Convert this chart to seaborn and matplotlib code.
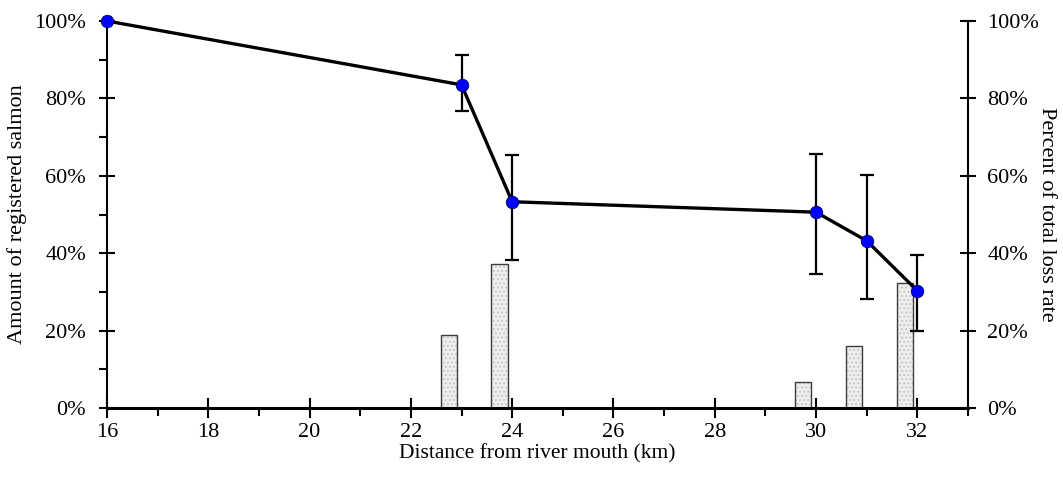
import matplotlib
matplotlib.use("Agg")
import matplotlib.pyplot as plt
import seaborn as sns
import numpy as np
import pandas as pd
from matplotlib.ticker import MultipleLocator, PercentFormatter

# data
distance_km = [16, 23, 24, 30, 31, 32]
registered_pct = [100, 83.5, 53.3, 50.6, 43.2, 30.3]
err_low_pct = [100, 76.7, 38.2, 34.5, 28.1, 19.9]
err_high_pct = [100, 91.2, 65.4, 65.6, 60.2, 39.5]

loss_km = [23, 24, 30, 31, 32]
loss_pct = [18.9, 37.2, 6.6, 15.9, 32.4]

sns.set_theme(style="white")
plt.rcParams["font.family"] = ["Liberation Serif", "DejaVu Serif"]
plt.rcParams["font.size"] = 16
plt.rcParams["text.color"] = "black"
plt.rcParams["axes.labelcolor"] = "black"

df = pd.DataFrame({"km": distance_km, "pct": registered_pct})

fig = plt.figure(figsize=(10.63, 4.93), dpi=100)
ax = fig.add_axes([0.1007, 0.1724, 0.8099, 0.785])
ax2 = ax.twinx()

# bars (loss rate) on the right axis, sitting just left of each km tick
bar_x = np.array(loss_km) - 0.25
ax2.bar(bar_x, loss_pct, width=0.32, color="#efefef", edgecolor="#c8c8c8",
        hatch="....", linewidth=0, zorder=1)
ax2.bar(bar_x, loss_pct, width=0.32, fill=False, edgecolor="#3c3c3c",
        linewidth=1.0, zorder=2)

# line with error bars on the left axis, drawn above the bars
ax.set_zorder(ax2.get_zorder() + 1)
ax.patch.set_visible(False)

yerr = [np.array(registered_pct) - np.array(err_low_pct),
        np.array(err_high_pct) - np.array(registered_pct)]
ax.errorbar(distance_km, registered_pct, yerr=yerr, fmt="none", ecolor="black",
            elinewidth=1.6, capsize=5, capthick=1.6, zorder=2)
sns.lineplot(data=df, x="km", y="pct", ax=ax, color="black", linewidth=2.4,
             marker="o", markersize=9, markerfacecolor="#0000ff",
             markeredgecolor="#000060", markeredgewidth=0.6, zorder=3,
             clip_on=False)

for a in (ax, ax2):
    a.set_xlim(16, 33)
    a.set_ylim(0, 100)
    a.spines["top"].set_visible(False)
    a.yaxis.set_major_locator(MultipleLocator(20))
    a.yaxis.set_major_formatter(PercentFormatter(decimals=0))

ax.xaxis.set_major_locator(MultipleLocator(2))
ax.xaxis.set_minor_locator(MultipleLocator(1))
ax.yaxis.set_minor_locator(MultipleLocator(10))
ax2.yaxis.set_minor_locator(plt.NullLocator())

ax.spines["bottom"].set_linewidth(2.2)
ax.spines["left"].set_linewidth(1.5)
ax.spines["right"].set_visible(False)
ax2.spines["right"].set_linewidth(1.5)
ax2.spines["left"].set_visible(False)
ax2.spines["bottom"].set_visible(False)
for s in ("left", "bottom"):
    ax.spines[s].set_color("black")
ax2.spines["right"].set_color("black")

ax.tick_params(axis="x", which="major", direction="inout", length=14, width=1.5,
               bottom=True, colors="black", labelsize=16, pad=4)
ax.tick_params(axis="x", which="minor", direction="out", length=6, width=1.5,
               bottom=True, colors="black")
ax.tick_params(axis="y", which="major", direction="inout", length=12, width=1.5,
               left=True, colors="black", labelsize=16, pad=9)
ax.tick_params(axis="y", which="minor", direction="out", length=6, width=1.5,
               left=True, colors="black")
ax2.tick_params(axis="y", which="major", direction="inout", length=12, width=1.5,
                right=True, colors="black", labelsize=16, pad=8)

ax.set_xlabel("Distance from river mouth (km)", fontsize=15.5, labelpad=1)
ax.set_ylabel("Amount of registered salmon", fontsize=16, labelpad=5)
ax2.set_ylabel("Percent of total loss rate", fontsize=16, rotation=270,
               labelpad=12)

fig.savefig("out.png", dpi=100)
